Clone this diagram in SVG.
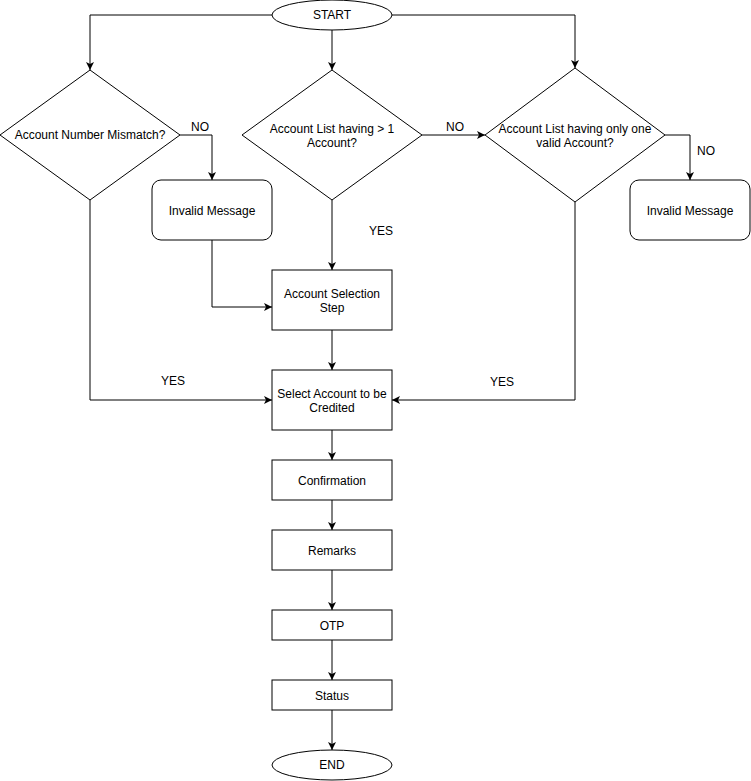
<svg xmlns="http://www.w3.org/2000/svg" width="751" height="781" viewBox="0 0 751 781">
<style>
.s{fill:#fff;stroke:#000;stroke-width:1}
.c{fill:none;stroke:#000;stroke-width:1}
text{font-family:"Liberation Sans",Arial,Helvetica,sans-serif;font-size:12px;fill:#000}
.m{text-anchor:middle}
</style>
<defs>
<marker id="a" viewBox="0 0 10 10" refX="10" refY="5" markerWidth="8" markerHeight="8" markerUnits="userSpaceOnUse" orient="auto">
<path d="M0,0 L10,5 L0,10 L2.5,5 Z" fill="#000"/>
</marker>
</defs>
<rect width="751" height="781" fill="#fff"/>
<g id="connectors">
<path class="c" d="M272,15 H90 V70" marker-end="url(#a)"/>
<path class="c" d="M332,30 V70" marker-end="url(#a)"/>
<path class="c" d="M392,15 H575 V68" marker-end="url(#a)"/>
<path class="c" d="M180,135 H212 V180" marker-end="url(#a)"/>
<path class="c" d="M422,135 H485" marker-end="url(#a)"/>
<path class="c" d="M665,135 H690 V180" marker-end="url(#a)"/>
<path class="c" d="M332,200 V270" marker-end="url(#a)"/>
<path class="c" d="M212,240 V307 H272" marker-end="url(#a)"/>
<path class="c" d="M332,330 V370" marker-end="url(#a)"/>
<path class="c" d="M90,200 V400 H272" marker-end="url(#a)"/>
<path class="c" d="M575,202 V400 H392" marker-end="url(#a)"/>
<path class="c" d="M332,430 V460" marker-end="url(#a)"/>
<path class="c" d="M332,500 V530" marker-end="url(#a)"/>
<path class="c" d="M332,570 V610" marker-end="url(#a)"/>
<path class="c" d="M332,640 V680" marker-end="url(#a)"/>
<path class="c" d="M332,710 V750" marker-end="url(#a)"/>
<text x="200" y="131" class="m">NO</text>
<text x="455" y="131" class="m">NO</text>
<text x="706" y="155" class="m">NO</text>
<text x="381" y="235" class="m">YES</text>
<text x="173" y="385" class="m">YES</text>
<text x="502" y="386" class="m">YES</text>
</g>
<g id="start"><ellipse class="s" cx="332" cy="15" rx="60" ry="15"/><text x="332" y="19" class="m">START</text></g>
<g id="d1"><polygon class="s" points="90,70 180,135 90,200 0,135"/><text x="90" y="139" class="m">Account Number Mismatch?</text></g>
<g id="d2"><polygon class="s" points="332,70 422,135 332,200 242,135"/><text x="332" y="133" class="m">Account List having &gt; 1</text><text x="332" y="147" class="m">Account?</text></g>
<g id="d3"><polygon class="s" points="575,68 665,135 575,202 485,135"/><text x="575" y="133" class="m">Account List having only one</text><text x="575" y="147" class="m">valid Account?</text></g>
<g id="inv1"><rect class="s" x="152" y="180" width="120" height="60" rx="9"/><text x="212" y="215" class="m">Invalid Message</text></g>
<g id="inv2"><rect class="s" x="630" y="180" width="120" height="60" rx="9"/><text x="690" y="215" class="m">Invalid Message</text></g>
<g id="acc-sel"><rect class="s" x="272" y="270" width="120" height="60"/><text x="332" y="298" class="m">Account Selection</text><text x="332" y="312" class="m">Step</text></g>
<g id="sel-credit"><rect class="s" x="272" y="370" width="120" height="60"/><text x="332" y="398" class="m">Select Account to be</text><text x="332" y="412" class="m">Credited</text></g>
<g id="confirm"><rect class="s" x="272" y="460" width="120" height="40"/><text x="332" y="485" class="m">Confirmation</text></g>
<g id="remarks"><rect class="s" x="272" y="530" width="120" height="40"/><text x="332" y="555" class="m">Remarks</text></g>
<g id="otp"><rect class="s" x="272" y="610" width="120" height="30"/><text x="332" y="630" class="m">OTP</text></g>
<g id="status"><rect class="s" x="272" y="680" width="120" height="30"/><text x="332" y="700" class="m">Status</text></g>
<g id="end"><ellipse class="s" cx="332" cy="765" rx="60" ry="15"/><text x="332" y="769" class="m">END</text></g>
</svg>
